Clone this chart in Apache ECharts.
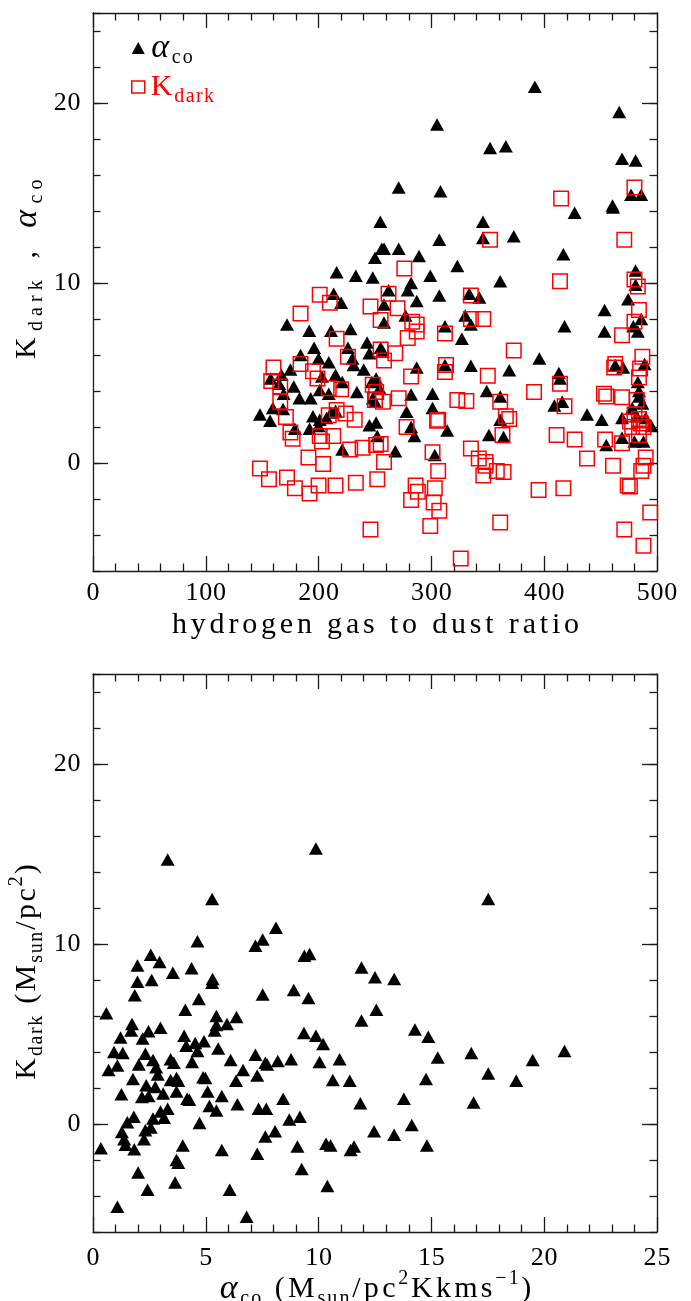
<!DOCTYPE html>
<html><head><meta charset="utf-8">
<script src="https://cdn.jsdelivr.net/npm/echarts@6/dist/echarts.min.js"></script>
<style>html,body{margin:0;padding:0;background:#fff}#c{width:691px;height:1301px}</style>
</head><body><div id="c"></div>
<script>
// ---------------- data ----------------
const xTicksTop = [0, 100, 200, 300, 400, 500];
const xTicksBottom = [0, 5, 10, 15, 20, 25];
const yTicks = [0, 10, 20];

// top panel, triangles: [gas-to-dust ratio, alpha_co]
const alphaCoVsGdr = [
[391.7,20.9],[466.5,19.5],[305,18.8],[352,17.5],[366,17.6],[469,16.9],[481,16.8],[271,15.3],[308,15.1],[477,14.9],
[486,14.9],[460.6,14.3],[461,14.2],[427,13.9],[254.7,13.4],[345.7,13.4],[307,12.4],[345.7,12.5],[373,12.6],[256,11.9],
[258,11.9],[271,11.9],[250,11.4],[289,11.5],[417,11.6],[323,10.95],[216,10.6],[233,10.4],[248,10.3],[299,10.4],
[282,10.0],[361,10.1],[481,10.7],[481,9.9],[262,9.6],[279,9.6],[213.4,9.4],[307,9.3],[333.5,9.4],[342.5,9.2],
[220,8.9],[258,8.8],[287,9.0],[474.4,9.1],[277,8.2],[330,8.2],[486,8.0],[172,7.7],[258,7.8],[335,7.7],
[418,7.6],[312,7.6],[479,7.6],[483,7.3],[191.7,7.35],[211,7.35],[228.3,7.45],[453.5,8.5],[453.5,7.3],[327,6.9],
[243,6.7],[226,6.4],[196,6.4],[245,6.1],[255,6.4],[257,6.2],[184,6.0],[200,5.8],[209,5.6],[230,5.8],
[231,5.45],[240,5.2],[175,5.2],[287,5.3],[312,5.45],[335,5.4],[369,5.15],[395.7,5.8],[463,5.45],[470,5.3],
[489,5.5],[413,5.0],[414,4.7],[483,4.5],[157.5,4.7],[167,4.9],[165,4.4],[178,4.25],[203,4.8],[215,4.9],
[221,4.5],[251,4.7],[247,4.5],[254,4.15],[201,4.05],[169,3.85],[234,3.95],[209,3.85],[349,4.0],[361,3.7],
[301,3.85],[282,3.8],[183,3.6],[193,3.6],[248,3.6],[250,3.4],[484,3.7],[487,3.3],[409,3.2],[416,3.4],
[301,3.05],[278,2.85],[148,2.7],[159.4,3.05],[168.5,3.0],[157,2.35],[211,2.8],[215,2.9],[438,2.7],[451,2.4],
[469,2.5],[482,2.6],[490,2.5],[361,2.4],[195,2.6],[201,2.4],[207,2.5],[245,2.1],[251,2.25],[179,1.9],
[192,1.9],[200,2.05],[282,2.0],[314,1.8],[351,1.55],[364,1.45],[469,1.4],[480,1.2],[488,1.2],[495,2.05],
[285,1.5],[252,1.5],[455,1.0],[221,0.75],[268,0.65],[303,0.45],[478,3.05],[484,4.0]
];

// top panel, open squares: [gas-to-dust ratio, K_dark]
const kDarkVsGdr = [
[480,15.3],[415,14.7],[471,12.4],[352,12.4],[276,10.8],[414,10.1],[480,10.2],[483,9.8],[201,9.35],[210,8.9],
[246,8.7],[262,9.4],[270,8.6],[335,9.3],[484,8.5],[184,8.3],[255,7.95],[283,7.85],[287,7.7],[287,7.3],
[335,8.0],[346,8.0],[480,7.85],[312,7.2],[279,6.95],[216,6.9],[469,7.1],[255,6.3],[268,6.1],[373,6.25],
[258,5.7],[226,5.9],[184,5.5],[160,5.3],[313,5.45],[312,5.05],[462,5.3],[463,5.5],[487,5.9],[485,5.25],
[484,4.75],[195,5.1],[282,4.8],[350,4.85],[414,4.4],[158,4.55],[166,4.25],[199,4.7],[220,4.1],[248,4.35],
[251,3.95],[209,4.15],[453,3.85],[455,3.7],[391,3.95],[469,3.65],[482,3.5],[271,3.6],[166,3.4],[250,3.5],
[257,3.4],[323,3.5],[331,3.45],[361,3.4],[418,3.15],[216,2.95],[224,2.75],[232,2.4],[209,2.65],[171,2.55],
[306,2.4],[305,2.35],[366,2.6],[369,2.45],[480,2.7],[484,2.45],[485.6,2.2],[478,2.0],[488,2.0],[476,2.3],
[278,2.0],[175,1.7],[177,1.35],[201,1.5],[213,1.5],[203,1.2],[411,1.55],[427,1.3],[454,1.3],[363,1.55],
[251,1.0],[255,1.05],[239,0.85],[228,0.75],[301,0.6],[335,0.8],[469,1.1],[191,0.3],[258,0.05],[204,-0.05],
[342,0.25],[348,0.05],[348,-0.15],[438,0.25],[490,0.3],[488,-0.15],[148,-0.3],[306,-0.45],[346,-0.7],[358,-0.45],
[364,-0.5],[461,-0.15],[486,-0.45],[156,-0.9],[172,-0.8],[200,-1.25],[215,-1.25],[233,-1.1],[252,-0.9],[179,-1.4],
[192,-1.7],[286,-1.25],[288,-1.6],[282,-2.05],[303,-1.4],[302,-2.2],[307,-2.65],[395,-1.5],[417,-1.4],[476,-1.3],
[474,-1.25],[494,-2.75],[246,-3.7],[299,-3.5],[361,-3.3],[471,-3.7],[488,-4.6],[326,-5.3],[484,1.55]
];

// bottom panel, triangles: [alpha_co, K_dark]
const kDarkVsAlpha = [
[3.31,14.7],[9.88,15.3],[5.28,12.5],[17.52,12.5],[8.11,10.9],[7.52,10.25],[7.2,9.9],[4.63,10.15],[2.56,9.4],[2.95,9.0],
[1.97,8.8],[9.37,9.35],[9.6,9.45],[3.54,8.4],[4.37,8.65],[11.9,8.7],[1.97,7.9],[2.6,8.0],[12.5,8.15],[13.35,8.05],
[5.28,7.85],[5.3,8.05],[1.85,7.15],[7.52,7.2],[8.9,7.45],[9.55,7.0],[4.69,6.95],[0.59,6.15],[4.09,6.35],[12.56,6.35],
[6.36,5.95],[5.47,6.0],[5.94,5.55],[5.47,5.5],[5.39,5.2],[1.73,5.55],[1.69,5.2],[2.99,5.35],[2.46,5.15],[11.9,5.75],
[14.27,5.25],[9.35,5.05],[9.88,4.9],[1.22,4.8],[2.2,4.75],[4.04,4.9],[14.86,4.85],[10.2,4.45],[4.92,4.6],[4.53,4.5],
[4.13,4.35],[4.63,4.05],[5.55,4.2],[0.93,4.0],[1.32,3.95],[2.32,3.9],[2.66,3.55],[3.44,3.6],[3.58,3.4],[4.39,3.45],
[7.2,3.85],[6.1,3.55],[7.64,3.4],[7.72,3.3],[8.19,3.5],[8.78,3.6],[10.04,3.45],[10.93,3.6],[15.28,3.7],[16.77,3.95],
[19.49,3.55],[20.9,4.05],[1.08,3.25],[2.03,3.3],[2.8,3.15],[0.69,3.0],[2.87,2.75],[1.77,2.5],[3.44,2.45],[3.78,2.4],
[3.7,2.55],[4.88,2.6],[4.98,2.55],[6.34,2.4],[6.65,3.0],[7.28,2.7],[10.63,2.45],[11.38,2.4],[14.76,2.5],[17.52,2.8],
[18.76,2.4],[2.36,2.15],[2.76,2.05],[2.17,1.5],[2.46,1.55],[1.26,1.65],[3.11,1.7],[3.7,1.8],[4.17,1.4],[4.27,1.35],
[5.08,1.8],[5.71,1.55],[8.43,1.4],[13.78,1.4],[2.99,0.7],[3.31,0.85],[3.15,0.35],[5.16,1.0],[5.47,0.75],[6.4,1.1],
[7.34,0.85],[7.68,0.85],[11.85,1.15],[16.87,1.2],[1.81,0.4],[1.52,0.1],[2.66,0.3],[4.72,0.05],[8.7,0.25],[9.17,0.4],
[1.28,-0.45],[2.32,-0.35],[2.56,-0.2],[1.38,-0.85],[1.44,-1.15],[2.26,-0.85],[0.35,-1.35],[1.83,-1.4],[3.98,-1.2],[7.64,-0.7],
[8.07,-0.4],[12.46,-0.4],[13.35,-0.6],[14.13,-0.05],[5.71,-1.45],[7.28,-1.65],[9.06,-1.25],[10.33,-1.1],[10.53,-1.2],[11.42,-1.45],
[11.57,-1.25],[14.8,-1.2],[3.7,-2.0],[3.78,-2.15],[2.0,-2.7],[9.25,-2.5],[3.64,-3.25],[2.42,-3.65],[6.06,-3.65],[10.39,-3.45],
[1.08,-4.6],[6.81,-5.15]
];

// ---------------- text helpers ----------------
const FONT = 'Liberation Serif';
const STY = {
  m: {size: 30, italic: false, k: 1},
  g: {size: 34, italic: true, k: 1},
  s: {size: 20, italic: false, k: 0.65},
  u: {size: 20, italic: false, k: 0.65}
};
const mctx = document.createElement('canvas').getContext('2d');
function spacingFor(parts, target) {
  let w = 0, units = 0;
  for (const [s, t] of parts) {
    const st = STY[s];
    mctx.font = (st.italic ? 'italic ' : '') + st.size + 'px "' + FONT + '"';
    for (const c of t) { w += mctx.measureText(c).width; units += st.k; }
  }
  return Math.max(0, (target - w) / units);
}
function richStyles(sp, color, sfx) {
  const o = {};
  for (const key of Object.keys(STY)) {
    const st = STY[key];
    const p = sp * st.k / 2;
    const style = {fontFamily: FONT, fontSize: st.size, fontStyle: st.italic ? 'italic' : 'normal',
      color: color, fill: color, padding: [0, p, 0, p]};
    if (key === 'm' || key === 'g') { style.lineHeight = 40; style.verticalAlign = 'middle'; }
    if (key === 's') { style.lineHeight = 20; style.verticalAlign = 'bottom'; }
    if (key === 'u') { style.lineHeight = 26; style.verticalAlign = 'top'; }
    o[key + sfx] = style;
  }
  return o;
}
function spaced(parts, sfx) {
  return parts.map(([s, t]) => Array.from(t).map(c => '{' + s + sfx + '|' + c + '}').join('')).join('');
}
function label(parts, target, x, y, rot) {
  const sp = spacingFor(parts, target);
  return {type: 'text', x: x, y: y, rotation: rot || 0, silent: true,
    style: {text: spaced(parts, 'L'), rich: richStyles(sp, '#000', 'L'),
      align: 'center', verticalAlign: 'middle', textAlign: 'center', textVerticalAlign: 'middle', fill: '#000'}};
}

const topXTitle = [['m', 'hydrogen gas to dust ratio']];
const botXTitle = [['g', 'α'], ['s', 'co'], ['m', ' (M'], ['s', 'sun'], ['m', '/pc'], ['u', '2'], ['m', 'Kkms'], ['u', '−1'], ['m', ')']];
const topYTitle = [['m', 'K'], ['s', 'dark'], ['m', ' , '], ['g', 'α'], ['s', 'co']];
const botYTitle = [['m', 'K'], ['s', 'dark'], ['m', ' (M'], ['s', 'sun'], ['m', '/pc'], ['u', '2'], ['m', ')']];
const legAlpha = [['g', 'α'], ['s', 'co']];
const legK = [['m', 'K'], ['s', 'dark']];

const tickRich = {t: {fontFamily: FONT, fontSize: 26, lineHeight: 26, padding: [0, 0.4, 0, 0.4], color: '#000'}};
const tickFmt = v => String(v).split('').map(c => '{t|' + c + '}').join('');

// ---------------- axes ----------------
const AX = '#1a1a1a';
const lineStyle = {color: AX, width: 1.3};
function xAxes(grid, max, interval, margin) {
  const base = {type: 'value', gridIndex: grid, min: 0, max: max, interval: interval,
    splitLine: {show: false}, minorSplitLine: {show: false},
    axisLine: {show: true, onZero: false, lineStyle: lineStyle},
    axisTick: {show: true, inside: true, length: 15, lineStyle: lineStyle},
    minorTick: {show: true, splitNumber: 5, length: 7.5, lineStyle: lineStyle}};
  return [
    Object.assign({}, base, {position: 'bottom', axisLabel: {show: true, margin: margin, formatter: tickFmt, rich: tickRich}}),
    Object.assign({}, base, {position: 'top', axisLabel: {show: false}})
  ];
}
function yAxes(grid) {
  const base = {type: 'value', gridIndex: grid, min: -6, max: 25, splitLine: {show: false}};
  const minorAx = Object.assign({}, base, {interval: 2,
    axisLine: {show: true, onZero: false, lineStyle: lineStyle},
    axisTick: {show: true, inside: true, length: 7.5, lineStyle: lineStyle}});
  const majorAx = Object.assign({}, base, {
    axisLine: {show: false, onZero: false},
    axisTick: {show: true, inside: true, length: 15, customValues: yTicks, lineStyle: lineStyle},
    axisLabel: {show: false}});
  return [
    Object.assign({}, minorAx, {position: 'left', axisLabel: {show: true, margin: 12, customValues: yTicks,
      formatter: v => (yTicks.indexOf(v) >= 0 ? tickFmt(v) : ''), rich: tickRich}}),
    Object.assign({}, majorAx, {position: 'left'}),
    Object.assign({}, minorAx, {position: 'right', axisLabel: {show: false}}),
    Object.assign({}, majorAx, {position: 'right'})
  ];
}

const spA = spacingFor(legAlpha, 44), spK = spacingFor(legK, 65);

const chart = echarts.init(document.getElementById('c'), null, {renderer: 'canvas'});
chart.setOption({
  animation: false,
  backgroundColor: '#fff',
  grid: [
    {left: 93, top: 13, width: 564, height: 558, containLabel: false},
    {left: 93, top: 674, width: 564, height: 558, containLabel: false}
  ],
  xAxis: [].concat(xAxes(0, xTicksTop[xTicksTop.length - 1], xTicksTop[1] - xTicksTop[0], 9),
                   xAxes(1, xTicksBottom[xTicksBottom.length - 1], xTicksBottom[1] - xTicksBottom[0], 13)),
  yAxis: [].concat(yAxes(0), yAxes(1)),
  legend: {
    show: true, orient: 'vertical', left: 131, top: 31, padding: 0, itemGap: 4,
    itemWidth: 13, itemHeight: 12, selectedMode: false,
    data: [
      {name: 'alpha', icon: 'triangle', itemStyle: {color: '#000'}},
      {name: 'kdark', icon: 'rect', itemStyle: {color: 'transparent', borderColor: '#ff0000', borderWidth: 1.5}}
    ],
    formatter: n => n === 'alpha' ? spaced(legAlpha, 'a') : spaced(legK, 'k'),
    textStyle: {rich: Object.assign({}, richStyles(spA, '#000', 'a'), richStyles(spK, '#ff0000', 'k'))}
  },
  graphic: [
    label(topXTitle, 411, 375.5, 625, 0),
    label(botXTitle, 315, 375.5, 1289, 0),
    label(topYTitle, 186, 27, 270, Math.PI / 2),
    label(botYTitle, 218, 27, 972, Math.PI / 2)
  ],
  series: [
    {name: 'alpha', type: 'scatter', xAxisIndex: 0, yAxisIndex: 0, data: alphaCoVsGdr,
      symbol: 'triangle', symbolSize: [14, 12.5], itemStyle: {color: '#000', opacity: 1}, silent: true},
    {name: 'kdark', type: 'scatter', xAxisIndex: 0, yAxisIndex: 0, data: kDarkVsGdr,
      symbol: 'rect', symbolSize: 14.5, itemStyle: {color: 'transparent', borderColor: '#ff0000', borderWidth: 1.5, opacity: 1}, silent: true},
    {name: 'kdarkAlpha', type: 'scatter', xAxisIndex: 2, yAxisIndex: 4, data: kDarkVsAlpha,
      symbol: 'triangle', symbolSize: [14, 12.5], itemStyle: {color: '#000', opacity: 1}, silent: true}
  ]
});
</script>
</body></html>
